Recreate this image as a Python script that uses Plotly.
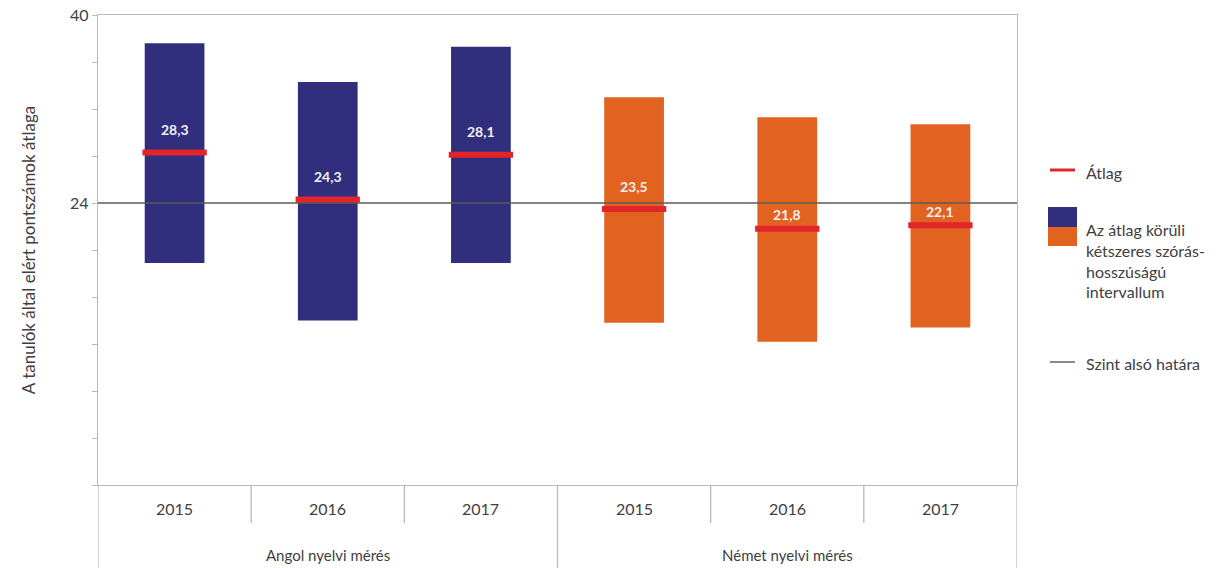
import plotly.graph_objects as go

# ---- data ----
groups = ["Angol nyelvi mérés", "Német nyelvi mérés"]
years = ["2015", "2016", "2017", "2015", "2016", "2017"]
group_of = [0, 0, 0, 1, 1, 1]
means = [28.3, 24.3, 28.1, 23.5, 21.8, 22.1]
lower = [18.9, 14.0, 18.9, 13.8, 12.2, 13.4]
upper = [37.6, 34.3, 37.3, 33.0, 31.3, 30.7]
threshold = 24
y_tickvals = [0, 4, 8, 12, 16, 20, 24, 28, 32, 36, 40]
y_ticktext = ["", "", "", "", "", "", "24", "", "", "", "40"]

# ---- style ----
BLUE = "#312E7D"
ORANGE = "#E2621F"
RED = "#E1252B"
GRID = "#B9B9B9"
TXT = "#404040"
FONT = "Lato"
label_shift = [23, 23, 23, 22, 14, 14]

W, H = 1224, 568
ML, MR, MT, MB = 98, 207, 15, 83
pw = W - ML - MR
ph = H - MT - MB


def px_x(px):
    return (px - ML) / pw


def px_y(py):
    return (H - MB - py) / ph


fig = go.Figure()

xs = list(range(len(years)))
for g, col in enumerate([BLUE, ORANGE]):
    idx = [i for i in xs if group_of[i] == g]
    fig.add_trace(go.Bar(
        x=[xs[i] for i in idx],
        base=[lower[i] for i in idx],
        y=[upper[i] - lower[i] for i in idx],
        width=0.39,
        marker=dict(color=col, line=dict(width=0)),
        showlegend=False,
        hoverinfo="skip",
    ))

# threshold line
fig.add_trace(go.Scatter(
    x=[-0.5, len(years) - 0.5], y=[threshold, threshold],
    mode="lines", line=dict(color="#5A5A5A", width=1.5),
    showlegend=False, hoverinfo="skip",
))

# mean lines
mx, my = [], []
for i, m in enumerate(means):
    mx += [i - 0.21, i + 0.21, None]
    my += [m, m, None]
fig.add_trace(go.Scatter(
    x=mx, y=my, mode="lines",
    line=dict(color=RED, width=6),
    showlegend=False, hoverinfo="skip",
))

# mean labels
for i, m in enumerate(means):
    fig.add_annotation(
        x=i, y=m, text="<b>" + f"{m:.1f}".replace(".", ",") + "</b>",
        showarrow=False, yshift=label_shift[i], yanchor="middle",
        font=dict(family=FONT, size=14, color="#F4F0F0"),
    )

# category table below the axis
for i, yr in enumerate(years):
    fig.add_annotation(
        x=i, y=px_y(508), yref="paper", text=yr, showarrow=False,
        yanchor="middle",
        font=dict(family=FONT, size=16, color=TXT),
    )
for g, name in enumerate(groups):
    cx = sum(i for i in xs if group_of[i] == g) / 3
    fig.add_annotation(
        x=cx, y=px_y(555), yref="paper", text=name, showarrow=False,
        yanchor="middle",
        font=dict(family=FONT, size=15, color=TXT),
    )
for i in range(len(years) + 1):
    xb = i - 0.5
    long = (i == 0) or (i == len(years)) or (group_of[i] != group_of[i - 1])
    y1 = px_y(H) if long else px_y(523)
    fig.add_shape(type="line", x0=xb, x1=xb, xref="x", yref="paper",
                  y0=0, y1=y1, line=dict(color=GRID, width=1.3))

# ---- custom legend ----
fig.add_shape(type="line", xref="paper", yref="paper",
              x0=px_x(1050), x1=px_x(1075), y0=px_y(170), y1=px_y(170),
              line=dict(color=RED, width=3))
fig.add_annotation(xref="paper", yref="paper", x=px_x(1084), y=px_y(172),
                   text="Átlag", showarrow=False, xanchor="left", yanchor="middle",
                   font=dict(family=FONT, size=16, color=TXT))
fig.add_shape(type="rect", xref="paper", yref="paper",
              x0=px_x(1048), x1=px_x(1077), y0=px_y(227), y1=px_y(207),
              line=dict(width=0), fillcolor=BLUE)
fig.add_shape(type="rect", xref="paper", yref="paper",
              x0=px_x(1048), x1=px_x(1077), y0=px_y(246), y1=px_y(227),
              line=dict(width=0), fillcolor=ORANGE)
fig.add_annotation(xref="paper", yref="paper", x=px_x(1084), y=px_y(218),
                   text="Az átlag körüli<br>kétszeres szórás-<br>hosszúságú<br>intervallum",
                   showarrow=False, xanchor="left", yanchor="top", align="left",
                   font=dict(family=FONT, size=16, color=TXT))
fig.add_shape(type="line", xref="paper", yref="paper",
              x0=px_x(1050), x1=px_x(1075), y0=px_y(362), y1=px_y(362),
              line=dict(color="#8A8A8A", width=2))
fig.add_annotation(xref="paper", yref="paper", x=px_x(1084), y=px_y(363),
                   text="Szint alsó határa", showarrow=False, xanchor="left",
                   yanchor="middle",
                   font=dict(family=FONT, size=16, color=TXT))

fig.update_layout(
    width=W, height=H,
    margin=dict(l=ML, r=MR, t=MT, b=MB, autoexpand=False),
    paper_bgcolor="white", plot_bgcolor="white",
    barmode="overlay",
    font=dict(family=FONT, size=15, color=TXT),
    showlegend=False,
)
fig.update_xaxes(
    range=[-0.5, len(years) - 0.5], showticklabels=False, ticks="",
    showgrid=False, zeroline=False, automargin=False,
    showline=True, mirror=True, linecolor=GRID, linewidth=1.3,
)
fig.update_yaxes(
    range=[0, 40], tickvals=y_tickvals, ticktext=y_ticktext,
    ticks="outside", ticklen=5, tickcolor=GRID, tickwidth=1,
    showgrid=False, zeroline=False, automargin=False,
    showline=True, mirror=True, linecolor=GRID, linewidth=1.3,
    tickfont=dict(family=FONT, size=16, color=TXT),
    title=dict(text="A tanulók által elért pontszámok átlaga",
               font=dict(family=FONT, size=17, color=TXT), standoff=30),
)

fig.write_html("out.html",
               config={"displayModeBar": False},
               post_script="document.body.style.margin='0px';document.body.style.overflow='hidden';")
